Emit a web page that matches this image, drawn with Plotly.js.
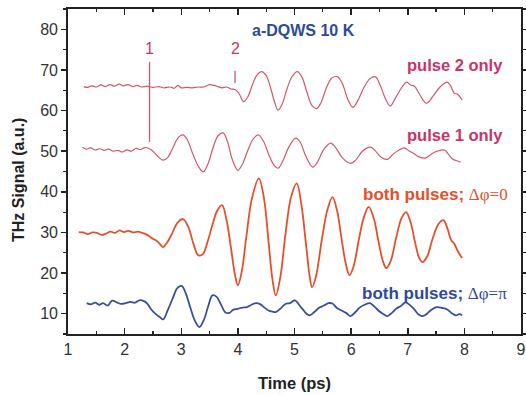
<!DOCTYPE html>
<html>
<head>
<meta charset="utf-8">
<script src="https://cdn.plot.ly/plotly-3.0.1.min.js"></script>
<style>html,body{margin:0;padding:0;background:#fff;}#chart{width:526px;height:395px;}</style>
</head>
<body>
<div id="chart"></div>
<script>
// pulse 2 only
const t2 = [1.28,1.35,1.42,1.50,1.58,1.66,1.74,1.82,1.90,1.98,2.06,2.14,2.22,2.30,2.40,2.50,2.60,2.70,2.80,2.88,2.94,3.00,3.10,3.20,3.30,3.40,3.50,3.58,3.65,3.72,3.80,3.88,3.95,4.02,4.10,4.18,4.26,4.34,4.42,4.50,4.58,4.65,4.71,4.78,4.86,4.95,5.05,5.13,5.22,5.31,5.39,5.47,5.56,5.66,5.76,5.85,5.94,6.03,6.12,6.22,6.33,6.43,6.52,6.61,6.69,6.78,6.90,6.98,7.05,7.12,7.20,7.33,7.45,7.57,7.70,7.76,7.82,7.88,7.96];
const p2 = [65.9,65.7,66.1,65.8,66.3,65.9,66.4,66.0,66.5,66.1,66.4,65.9,66.2,65.8,66.0,65.7,65.9,65.6,65.8,65.5,66.2,65.6,65.7,65.6,65.8,65.8,66.4,66.2,65.9,65.6,65.8,65.3,65.2,64.2,62.2,63.5,66.5,68.8,69.6,68.6,65.5,62.0,60.1,61.5,65.0,68.2,69.6,68.3,64.5,61.2,60.5,62.0,65.5,68.0,68.3,66.5,62.8,60.8,62.5,65.5,67.8,68.3,66.0,62.8,61.1,63.0,65.8,67.0,66.3,66.0,64.2,61.8,63.6,65.8,67.0,66.0,64.3,64.0,62.6];
// pulse 1 only
const t1 = [1.25,1.32,1.40,1.48,1.56,1.64,1.72,1.80,1.88,1.96,2.04,2.12,2.20,2.28,2.36,2.44,2.50,2.58,2.68,2.76,2.85,2.95,3.03,3.10,3.20,3.30,3.39,3.47,3.56,3.65,3.74,3.82,3.90,4.00,4.08,4.17,4.27,4.36,4.45,4.55,4.64,4.71,4.79,4.90,5.02,5.10,5.20,5.32,5.40,5.52,5.64,5.72,5.85,5.99,6.08,6.20,6.34,6.42,6.53,6.64,6.75,6.85,6.94,7.02,7.10,7.20,7.31,7.42,7.52,7.65,7.72,7.80,7.88,7.93];
const p1 = [51.0,50.5,50.8,50.3,50.6,50.2,50.5,50.0,50.2,49.8,50.3,50.0,50.7,50.4,50.9,50.6,50.0,48.8,47.8,48.4,50.8,53.4,54.0,53.0,49.5,46.3,44.9,46.8,50.8,53.8,54.5,52.2,48.0,45.3,46.8,50.0,53.0,54.0,52.5,49.0,46.5,45.8,47.5,51.0,53.2,52.2,48.8,46.1,47.2,50.5,52.0,51.0,48.3,47.0,47.8,50.0,51.0,50.2,48.5,48.0,49.4,50.3,50.8,50.1,49.5,48.6,48.3,49.3,50.0,50.3,49.2,48.0,47.6,47.3];
// both pulses, dphi = 0
const t0 = [1.19,1.27,1.35,1.43,1.51,1.59,1.67,1.75,1.83,1.91,1.99,2.07,2.15,2.23,2.31,2.40,2.48,2.56,2.62,2.68,2.75,2.83,2.93,3.03,3.12,3.22,3.30,3.38,3.46,3.55,3.63,3.72,3.80,3.88,3.95,4.00,4.07,4.15,4.25,4.37,4.46,4.54,4.61,4.67,4.75,4.84,4.94,5.04,5.12,5.20,5.27,5.31,5.38,5.48,5.58,5.67,5.75,5.83,5.91,5.97,6.04,6.14,6.22,6.31,6.40,6.48,6.56,6.62,6.70,6.80,6.89,6.97,7.05,7.13,7.20,7.26,7.34,7.44,7.54,7.63,7.70,7.77,7.82,7.88,7.96];
const s0 = [30.1,30.0,29.6,30.0,29.9,29.4,29.7,30.2,29.9,30.5,30.1,30.4,30.0,30.2,29.9,29.4,28.6,28.0,27.2,26.4,27.5,29.5,32.3,33.3,31.5,27.0,24.4,24.6,27.5,31.8,35.2,36.7,33.0,26.0,19.5,17.0,20.5,29.0,38.5,43.3,38.5,28.0,18.5,14.5,19.0,29.5,38.8,42.1,37.0,27.5,19.0,16.5,19.2,28.0,35.5,38.7,35.5,28.5,22.0,19.5,21.5,28.5,33.5,36.3,33.5,28.0,23.0,21.2,23.0,29.0,33.5,35.0,32.5,27.5,23.8,22.7,24.0,28.5,32.0,33.0,31.0,28.0,27.3,25.5,23.7];
// both pulses, dphi = pi
const tp = [1.33,1.40,1.48,1.55,1.62,1.70,1.78,1.86,1.94,2.02,2.10,2.18,2.26,2.34,2.40,2.46,2.54,2.62,2.68,2.76,2.85,2.93,3.01,3.08,3.16,3.24,3.32,3.40,3.48,3.55,3.62,3.70,3.78,3.85,3.92,4.00,4.08,4.16,4.24,4.32,4.40,4.47,4.54,4.61,4.67,4.75,4.84,4.92,5.01,5.08,5.15,5.21,5.27,5.35,5.44,5.52,5.60,5.67,5.75,5.83,5.91,5.99,6.07,6.15,6.24,6.33,6.40,6.48,6.56,6.64,6.72,6.80,6.88,6.96,7.04,7.12,7.19,7.26,7.34,7.42,7.51,7.61,7.69,7.77,7.85,7.91,7.96];
const sp = [12.6,12.3,12.7,12.2,12.6,12.0,13.2,12.8,12.4,12.6,12.9,12.7,13.3,13.1,12.5,11.2,10.0,9.2,8.6,10.8,13.8,16.3,16.8,15.0,11.5,8.3,6.7,8.5,12.0,14.5,14.2,12.3,10.3,10.2,11.0,11.2,11.5,11.6,12.2,12.6,12.3,11.5,10.8,10.5,10.4,11.2,12.4,12.6,13.3,12.2,11.0,10.0,9.6,10.4,11.5,12.0,12.6,12.5,11.4,10.8,10.2,9.4,10.3,11.5,12.2,12.6,11.9,10.8,10.0,9.4,10.2,11.3,11.9,12.8,12.1,11.0,9.8,9.4,10.0,11.0,11.6,11.4,11.1,10.2,9.6,9.9,9.6];

const xTicks = [1,2,3,4,5,6,7,8,9];
const yTicks = [10,20,30,40,50,60,70,80];

const pink = '#d4566c', pinkText = '#c8346a', red = '#e4502c', blue = '#3a4f9c', blueText = '#2e4a98';

const traces = [
  {x: t2, y: p2, mode: 'lines', line: {color: pink, width: 1.2, shape: 'spline'}, name: 'pulse 2 only'},
  {x: t1, y: p1, mode: 'lines', line: {color: pink, width: 1.2, shape: 'spline'}, name: 'pulse 1 only'},
  {x: t0, y: s0, mode: 'lines', line: {color: red, width: 1.8, shape: 'spline'}, name: 'dphi=0'},
  {x: tp, y: sp, mode: 'lines', line: {color: blue, width: 1.8, shape: 'spline'}, name: 'dphi=pi'}
];

const fnt = 'Liberation Sans, Arial, sans-serif';
const serif = 'Liberation Serif, Times New Roman, serif';
const layout = {
  width: 526, height: 395,
  margin: {l: 68, r: 5, t: 9, b: 61},
  paper_bgcolor: '#fff', plot_bgcolor: '#fff',
  showlegend: false,
  font: {family: fnt, color: '#333', size: 16},
  xaxis: {
    range: [1, 9], tickvals: xTicks, ticktext: xTicks.map(String),
    ticks: 'inside', ticklen: 6, tickwidth: 1.5, tickcolor: '#222',
    minor: {dtick: 0.5, tick0: 1, ticks: 'inside', ticklen: 3, tickwidth: 1.2, tickcolor: '#222'},
    showline: true, linecolor: '#222', linewidth: 1.8, mirror: 'ticks',
    showgrid: false, zeroline: false,
    tickfont: {size: 16, color: '#333'},
    title: {text: ''}
  },
  yaxis: {
    range: [5, 85], tickvals: yTicks, ticktext: yTicks.map(String),
    ticks: 'outside', ticklen: 5, tickwidth: 1.5, tickcolor: '#222',
    minor: {dtick: 5, tick0: 5, ticks: 'outside', ticklen: 3, tickwidth: 1.2, tickcolor: '#222'},
    showline: true, linecolor: '#222', linewidth: 1.8, mirror: 'ticks',
    showgrid: false, zeroline: false,
    tickfont: {size: 16, color: '#333'},
    title: {text: ''}
  },
  shapes: [
    {type: 'line', xref: 'x', yref: 'y', x0: 2.44, x1: 2.44, y0: 52.3, y1: 72.0, line: {color: pink, width: 1.3}},
    {type: 'line', xref: 'x', yref: 'y', x0: 3.95, x1: 3.95, y0: 66.8, y1: 69.8, line: {color: pink, width: 1.3}}
  ],
  annotations: [
    {x: 0.5, y: -0.152, xref: 'paper', yref: 'paper', yanchor: 'middle', text: '<b>Time (ps)</b>', showarrow: false, font: {size: 16.5, color: '#222', family: fnt}},
    {x: -0.108, y: 0.474, xref: 'paper', yref: 'paper', xanchor: 'center', yanchor: 'middle', textangle: -90, text: '<b>THz Signal (a.u.)</b>', showarrow: false, font: {size: 16, color: '#222', family: fnt}},
    {x: 2.44, y: 75.2, xref: 'x', yref: 'y', text: '1', showarrow: false, font: {size: 16, color: pinkText, family: fnt}},
    {x: 3.95, y: 75.2, xref: 'x', yref: 'y', text: '2', showarrow: false, font: {size: 16, color: pinkText, family: fnt}},
    {x: 4.22, y: 79.8, xref: 'x', yref: 'y', xanchor: 'left', text: '<b>a-DQWS 10 K</b>', showarrow: false, font: {size: 16, color: blueText, family: fnt}},
    {x: 6.96, y: 71.2, xref: 'x', yref: 'y', xanchor: 'left', text: '<b>pulse 2 only</b>', showarrow: false, font: {size: 16.5, color: pinkText, family: fnt}},
    {x: 6.96, y: 54.0, xref: 'x', yref: 'y', xanchor: 'left', text: '<b>pulse 1 only</b>', showarrow: false, font: {size: 16.5, color: pinkText, family: fnt}},
    {x: 6.18, y: 39.4, xref: 'x', yref: 'y', xanchor: 'left', text: '<b>both pulses;</b> <span style="font-family:' + serif + '">Δφ=0</span>', showarrow: false, font: {size: 17, color: red, family: fnt}},
    {x: 6.15, y: 15.0, xref: 'x', yref: 'y', xanchor: 'left', text: '<b>both pulses;</b> <span style="font-family:' + serif + '">Δφ=π</span>', showarrow: false, font: {size: 17, color: blueText, family: fnt}}
  ]
};

Plotly.newPlot('chart', traces, layout, {displayModeBar: false, staticPlot: true});
</script>
</body>
</html>
